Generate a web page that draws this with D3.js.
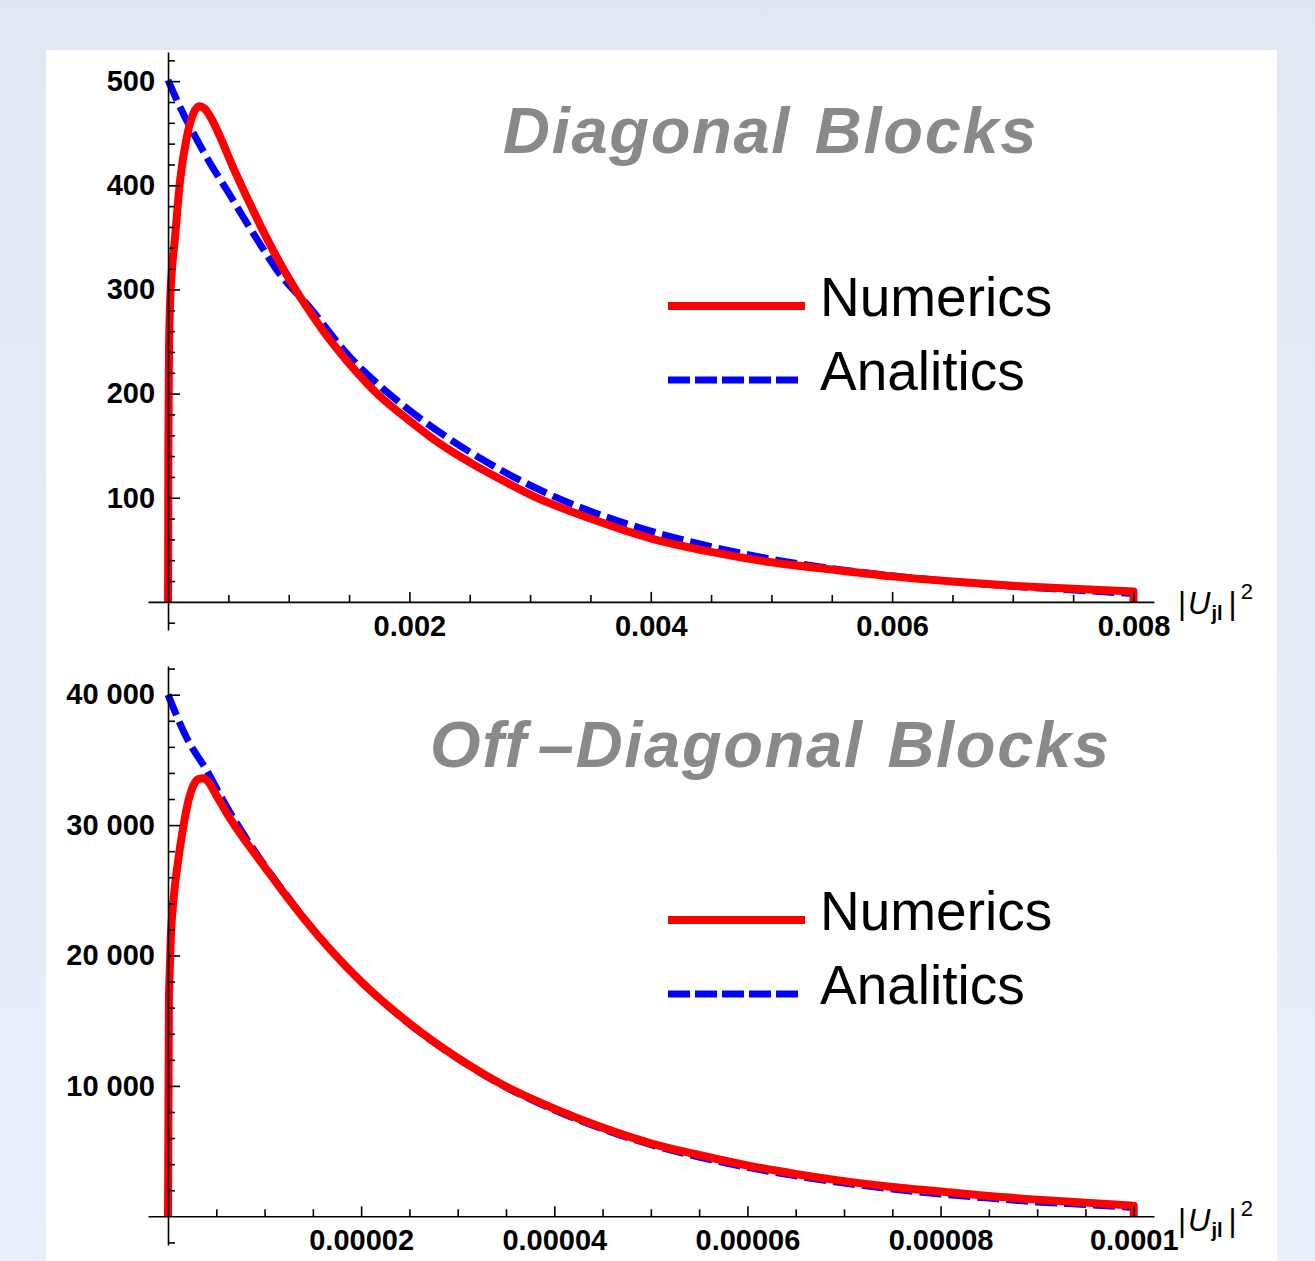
<!DOCTYPE html>
<html>
<head>
<meta charset="utf-8">
<script src="https://cdn.jsdelivr.net/npm/d3@7"></script>
<style>
  body { margin: 0; padding: 0; overflow: hidden; }
  .tick text { font-family: "Liberation Sans", Arial, sans-serif; font-weight: bold; font-size: 29px; fill: #000; }
  .axis path, .axis line { stroke: #000; stroke-width: 1.6px; }
</style>
</head>
<body>
<div id="vis"></div>
<script>
const W = 1315, H = 1261;

// top panel: diagonal blocks
const diagNumerics = [
  [0, 0], [0.000003, 150], [0.000008, 240], [0.000017, 287], [0.00003, 315], [0.000058, 350],
  [0.0001, 405], [0.000155, 446], [0.00021, 469], [0.00026, 476], [0.0003, 474], [0.00035, 466],
  [0.00043, 447], [0.00054, 417], [0.00068, 382], [0.00085, 342], [0.00104, 303], [0.00115, 283],
  [0.0013, 258], [0.0015, 229], [0.00175, 198], [0.002, 174], [0.00225, 152], [0.0025, 134],
  [0.00275, 118], [0.003, 103], [0.0035, 80], [0.004, 61], [0.0045, 48], [0.005, 38],
  [0.0055, 31], [0.006, 24.5], [0.0065, 19.5], [0.007, 15.5], [0.0075, 12.5], [0.008, 10], [0.008, 0]
];
const diagAnalytics = [
  [0, 501], [0.0001, 475], [0.00021, 450], [0.00035, 421], [0.00049, 395], [0.00062, 370],
  [0.00076, 344], [0.0009, 319], [0.00118, 282], [0.0015, 236], [0.00175, 208], [0.002, 184],
  [0.0025, 144], [0.003, 112], [0.0035, 87], [0.004, 68], [0.0045, 53], [0.005, 41],
  [0.0055, 32], [0.006, 25], [0.0065, 19.5], [0.007, 15], [0.0075, 11.5], [0.008, 8]
];
const diagXMajor = [0.002, 0.004, 0.006, 0.008];
const diagXMinor = [0.0005, 0.001, 0.0015, 0.0025, 0.003, 0.0035, 0.0045, 0.005, 0.0055, 0.0065, 0.007, 0.0075];
const diagYMajor = [100, 200, 300, 400, 500];
const diagYMinor = d3.range(-20, 521, 20).filter(v => v % 100 !== 0);

// bottom panel: off-diagonal blocks
const offNumerics = [
  [0, 0], [0.01e-5, 17000], [0.03e-5, 21500], [0.06e-5, 24500], [0.1e-5, 27000], [0.15e-5, 29500],
  [0.2e-5, 31500], [0.26e-5, 33000], [0.32e-5, 33550], [0.37e-5, 33600], [0.42e-5, 33300],
  [0.5e-5, 32300], [0.61e-5, 30900], [0.8e-5, 28800], [0.95e-5, 27300], [1.2e-5, 24800],
  [1.4e-5, 22900], [1.7e-5, 20300], [2.0e-5, 18000], [2.5e-5, 14800], [3.0e-5, 12150],
  [3.5e-5, 9950], [4.0e-5, 8250], [4.5e-5, 6800], [5.0e-5, 5600], [5.5e-5, 4700], [6.0e-5, 3900],
  [6.5e-5, 3250], [7.0e-5, 2700], [7.5e-5, 2250], [8.0e-5, 1900], [8.5e-5, 1550], [9.0e-5, 1280],
  [9.5e-5, 1050], [10.0e-5, 820], [10.0e-5, 0]
];
const offAnalytics = [
  [0, 40000], [0.2e-5, 36600], [0.4e-5, 34200], [0.6e-5, 31500], [0.8e-5, 29100], [1.0e-5, 26900],
  [1.25e-5, 24400], [1.5e-5, 22000], [1.75e-5, 19900], [2.0e-5, 18000], [2.5e-5, 14750],
  [3.0e-5, 12100], [3.5e-5, 9900], [4.0e-5, 8150], [4.5e-5, 6700], [5.0e-5, 5500], [5.5e-5, 4550],
  [6.0e-5, 3750], [6.5e-5, 3100], [7.0e-5, 2550], [7.5e-5, 2100], [8.0e-5, 1700], [8.5e-5, 1400],
  [9.0e-5, 1100], [9.5e-5, 900], [10.0e-5, 680]
];
const offXMajor = [0.00002, 0.00004, 0.00006, 0.00008, 0.0001];
const offXMinor = d3.range(1, 20).filter(i => i % 4 !== 0).map(i => i * 0.000005);
const offYMajor = [10000, 20000, 30000, 40000];
const offYMinor = d3.range(-2000, 42001, 2000).filter(v => v % 10000 !== 0);

const legendLabels = ['Numerics', 'Analitics'];

const svg = d3.select('#vis')
  .append('svg')
  .attr('width', W)
  .attr('height', H);

const grad = svg.append('defs').append('linearGradient')
  .attr('id', 'bg').attr('x1', 0).attr('y1', 0).attr('x2', 0).attr('y2', 1);
grad.append('stop').attr('offset', '0%').attr('stop-color', '#e1e7f3');
grad.append('stop').attr('offset', '100%').attr('stop-color', '#e9f0fb');

svg.append('rect').attr('width', W).attr('height', H).attr('fill', 'url(#bg)');
svg.append('rect').attr('x', 46).attr('y', 50).attr('width', 1231).attr('height', H - 50).attr('fill', '#fff');

function panel(cfg) {
  const x = d3.scaleLinear().domain(cfg.xDomain).range([148, 1154]);
  const y = d3.scaleLinear().domain(cfg.yDomain).range(cfg.yRange);
  const g = svg.append('g');

  // title, pieces placed one after the other
  const title = g.append('text')
    .attr('x', cfg.titleX)
    .attr('y', cfg.titleY)
    .attr('font-family', '"Liberation Sans", Arial, sans-serif')
    .attr('font-weight', 'bold')
    .attr('font-style', 'italic')
    .attr('font-size', 65)
    .attr('letter-spacing', 1.7)
    .attr('word-spacing', 4)
    .attr('fill', '#898989');
  cfg.title.forEach((t, i) => {
    title.append('tspan').attr('dx', i ? cfg.titleGap : 0).text(t);
  });

  const smooth = d3.line()
    .x(d => x(d[0]))
    .y(d => y(d[1]))
    .curve(d3.curveMonotoneX);

  // the numerics curve starts and ends with a vertical drop to the axis
  function numPath(pts) {
    const first = pts[0], last = pts[pts.length - 1];
    const inner = pts.slice(1, -1);
    return `M${x(first[0])},${y(first[1])}` + smooth(inner).replace(/^M/, 'L') +
      `L${x(last[0])},${y(last[1])}`;
  }

  g.append('path')
    .attr('d', smooth(cfg.analytics))
    .attr('fill', 'none')
    .attr('stroke', '#0000ff')
    .attr('stroke-width', 7)
    .attr('stroke-dasharray', '22,7');

  g.append('path')
    .attr('d', numPath(cfg.numerics))
    .attr('fill', 'none')
    .attr('stroke', '#ff0000')
    .attr('stroke-width', 8)
    .attr('stroke-linejoin', 'round');

  // legend
  const ly = cfg.legendY;
  g.append('line').attr('x1', 668).attr('x2', 805).attr('y1', ly).attr('y2', ly)
    .attr('stroke', '#ff0000').attr('stroke-width', 8);
  g.append('line').attr('x1', 668).attr('x2', 800).attr('y1', ly + 74).attr('y2', ly + 74)
    .attr('stroke', '#0000ff').attr('stroke-width', 7).attr('stroke-dasharray', '22,5');
  g.selectAll('.leg')
    .data(legendLabels)
    .join('text')
    .attr('class', 'leg')
    .attr('x', 820)
    .attr('y', (d, i) => ly + 10 + i * 74)
    .attr('font-family', '"Liberation Sans", Arial, sans-serif')
    .attr('font-size', 55)
    .attr('fill', '#000')
    .text(d => d);

  const y0 = y(0), x0 = x(0);

  // minor ticks
  g.append('g').attr('class', 'axis')
    .attr('transform', `translate(0,${y0})`)
    .call(d3.axisBottom(x).tickValues(cfg.xMinor).tickSize(-7).tickFormat(''))
    .call(s => s.select('.domain').remove());
  g.append('g').attr('class', 'axis')
    .attr('transform', `translate(${x0},0)`)
    .call(d3.axisLeft(y).tickValues(cfg.yMinor).tickSize(-7).tickFormat(''))
    .call(s => s.select('.domain').remove());

  // major ticks + axis lines
  g.append('g').attr('class', 'axis')
    .attr('transform', `translate(0,${y0})`)
    .call(d3.axisBottom(x).tickValues(cfg.xMajor).tickSize(-10).tickSizeOuter(0)
      .tickPadding(cfg.xPad).tickFormat(cfg.xFormat));
  g.append('g').attr('class', 'axis')
    .attr('transform', `translate(${x0},0)`)
    .call(d3.axisLeft(y).tickValues(cfg.yMajor).tickSize(-12).tickSizeOuter(0)
      .tickPadding(13).tickFormat(cfg.yFormat));

  // axis label |U_jl|^2
  const lab = g.append('text')
    .attr('x', 1178)
    .attr('y', y0 + cfg.labelDy)
    .attr('font-family', '"Liberation Sans", Arial, sans-serif')
    .attr('font-size', 31)
    .attr('fill', '#000');
  lab.append('tspan').text('|');
  lab.append('tspan').attr('font-style', 'italic').attr('dx', 2).text('U');
  lab.append('tspan').attr('font-weight', 'bold').attr('font-size', 20).attr('dy', 6).attr('dx', 1).text('jl');
  lab.append('tspan').attr('dy', -6).attr('dx', 6).text('|');
  lab.append('tspan').attr('font-size', 22).attr('dy', -15).attr('dx', 4).text('2');
}

panel({
  xDomain: [-0.000166, 0.00817],
  yDomain: [-27, 528],
  yRange: [630, 52],
  numerics: diagNumerics,
  analytics: diagAnalytics,
  xMajor: diagXMajor, xMinor: diagXMinor,
  yMajor: diagYMajor, yMinor: diagYMinor,
  xFormat: d3.format('.3f'),
  yFormat: d3.format('d'),
  xPad: 14,
  title: ['Diagonal Blocks'], titleGap: 0,
  titleX: 503, titleY: 153,
  legendY: 306,
  labelDy: 12
});

panel({
  xDomain: [-0.00000207, 0.0001021],
  yDomain: [-2200, 42200],
  yRange: [1245, 666],
  numerics: offNumerics,
  analytics: offAnalytics,
  xMajor: offXMajor, xMinor: offXMinor,
  yMajor: offYMajor, yMinor: offYMinor,
  xFormat: d => d === 0.0001 ? '0.0001' : d3.format('.5f')(d),
  yFormat: d => d3.format(',')(d).replace(',', ' '),
  xPad: 13,
  title: ['Off', '\u2013Diagonal Blocks'], titleGap: 10,
  titleX: 430, titleY: 767,
  legendY: 920,
  labelDy: 15
});
</script>
</body>
</html>
